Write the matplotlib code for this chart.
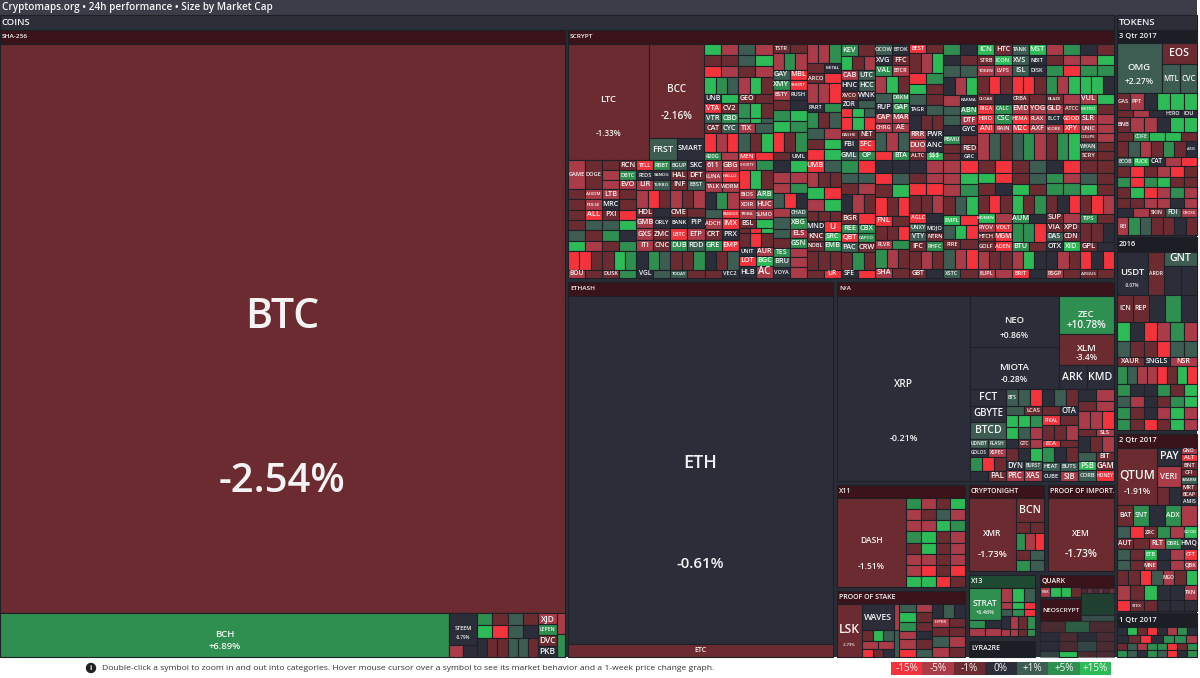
#import modules
import matplotlib
matplotlib.use('Agg')
import matplotlib.pyplot as plt
from matplotlib.patches import Rectangle, Circle
import numpy as np

plt.rcParams['font.family'] = ['Open Sans', 'DejaVu Sans']

#colour scale of the map, one colour per performance bin
scale_labels = ['-15%', '-5%', '-1%', '0%', '+1%', '+5%', '+15%']
scale_edges = [-10, -3.5, -0.9, 0.9, 3.5, 12]
scale_colors = ['#f5333c', '#a93c48', '#6b2b30', '#2b2e39', '#3d5c52', '#2f8f50', '#2dbb58']

#main coins: name, 24h change
big_names = ['BTC', 'BCH', 'ETH', 'XRP', 'LTC', 'BCC', 'NEO', 'MIOTA', 'ZEC', 'XLM', 'DASH', 'XMR', 'XEM', 'STRAT', 'LSK', 'OMG', 'USDT', 'QTUM', 'STEEM']
big_change = ['-2.54%', '+6.89%', '-0.61%', '-0.21%', '-1.33%', '-2.16%', '+0.86%', '-0.28%', '+10.78%', '-3.4%', '-1.51%', '-1.73%', '-1.73%', '+6.46%', '-2.73%', '+2.27%', '-0.07%', '-1.91%', '-0.79%']
big_name_px = [41, 9.5, 18, 10, 9.5, 10, 9.5, 9.5, 9.5, 9.5, 8.5, 8.5, 8.5, 8.5, 12, 9.5, 9.5, 12, 5.5]
big_change_px = [40, 9.5, 15, 9, 8, 10, 8.5, 8.5, 10, 8.5, 8.5, 9.5, 10.5, 5.5, 4, 8.5, 4.5, 8.5, 4.5]

#scrypt: LTC and BCC sit left of the top strips, the rest is cells of [height, perf or (perf, name), ...]
scrypt_top = [
    [[11, 15, -5], [11, -2, -2], [11, -15, -5], [17, 15, 5, 1], [9, (0, 'UNB'), 15], [10, (-15, 'VTA'), (-2, 'CV2')], [10, (1, 'VTR'), (5, 'CBD')], [10, (-2, 'CAT'), (1, 'CYC')], [19, -15, -5, -15], [8, (5, '420G'), -5]],
    [[11, 1, -5], [11, 1, 15], [11, -2, -5], [17, -5, 15, -2], [9, (-2, 'GEO'), -2], [15, 5, 15, -2], [5, 5, 15, 1], [10, (-5, 'TIX'), 1], [19, 1, -2, 15], [8, (-15, 'MEN'), -15]],
    [[9, (-2, 'TSTR'), -2], [17, -5, 5, -5], [10, (1, 'GAY'), (-15, 'MBL')], [10, (5, 'XMY'), (-15, 'SHORT')], [10, (-5, 'BSTY'), (0, 'RUSH')], [10, -2, 0], [11, 5, 15], [11, 15, 5], [20, -15, -2, 5], [8, -2, (0, 'UML')]],
    [[18, -5, -5, 5], [9, -2, (0, 'METAL')], [10, (-2, 'ARCO'), -15], [18, -5, -5, -15], [9, (0, 'PART'), 5], [15, 5, -2, 1], [10, 1, -5], [10, -2, 15], [10, -15, 15]],
    [[12, (5, 'KEV'), -2], [14, 15, -2, -5], [9, (-5, 'CAB'), (1, 'UTC')], [11, (0, 'HNC'), (1, 'HCC')], [9, (-2, 'XVCO'), (0, 'WNK')], [8, (0, 'ZOR'), 1], [9, -15, 15, 1], [13, -15, 15, -15], [8, (-2, 'DASHE'), (-2, 'NET')], [12, (0, 'FBI'), (-15, 'SFC')], [9, (1, 'GML'), (5, 'OP')]],
    [[11, (1, 'OCOW'), (0, 'BTOK')], [10, (0, 'XVG'), (-2, 'FFC')], [11, (5, 'VAL'), (-5, 'BTCR')], [17, -5, 15, -2], [9, 1, (5, 'DRKM')], [10, (0, 'RUP'), (5, 'GAP')], [10, (-5, 'CAP'), (-5, 'MAR')], [9, (-5, 'CHRG'), (-5, 'AE')], [19, 1, -5, 1], [9, -15, (5, 'BTA')]],
    [[9, (-15, 'BEST'), -2], [19, -2, -5, 15], [11, -15, 5], [10, 15, -2], [10, 1, -2], [10, (0, 'TAGR'), 1], [15, 0, -2, -2], [9, (-5, 'RRR'), (0, 'PWR')], [12, (-5, 'DUO'), (0, 'ANC')], [8, (-2, 'ALTC'), (15, '$$$')]],
    [[11, 5, 0], [10, 0, -2], [11, 1, 1], [18, 0, -5, 15], [11, -5, (0, 'KARMA')], [9, 1, (5, 'ABN')], [10, 1, (-5, 'DTF')], [9, 0, (0, 'GYC')], [9, (5, 'PBMU'), -2], [9, -2, (-2, 'RED')], [7, -2, (0, 'GRC')]],
    [[11, (15, 'ICN'), (-2, 'HTC')], [10, (-2, 'STRB'), (15, 'ICON')], [11, (-5, 'TOKEN'), (-5, 'LVPS')], [18, -2, -15, -2], [10, (-2, 'CLOAK'), 0], [10, (-15, 'RIGA'), (5, 'CALC')], [10, (-15, 'HIRO'), (5, 'CSC')], [9, (-15, 'ANI'), (-5, 'RAIN')], [27, -5, 1, -2]],
    [[11, (1, 'TANK'), (15, 'MST')], [10, (1, 'XVS'), (0, 'NBIT')], [11, (1, 'ISL'), (0, 'DISK')], [18, -15, -15, -2], [10, (-2, 'CRBA'), -2], [10, (-5, 'EMD'), (-5, 'YOG')], [10, (-15, 'HEMA'), (-5, 'FLAX')], [9, (-15, 'M2C'), (-5, 'AXF')], [27, 1, 5, -5]],
    [[11, -5, 5], [10, -2, -5], [11, 5, -15], [18, 5, -5, 15], [10, (-2, 'BLAZE'), -5], [10, (-5, 'GLD'), (-2, 'ATCC')], [10, (0, 'ELCT'), (-15, 'GOOD')], [9, (-5, 'SCORE'), (-15, 'XPY')], [27, -2, 5, 15]],
    [[11, 0, -2], [10, -5, 15], [11, 5, 5], [18, 15, 15, 0], [10, (-5, 'VUL'), 15], [10, (15, 'METRO'), -2], [10, (-5, 'SLR'), -5], [9, (-5, 'UNIC'), -5], [9, (-2, 'COUPE'), -5], [9, (1, 'WYAN'), -2], [9, (-2, 'SCRY'), -2]],
]
scrypt_bottom = [
    [[28, (-5, 'GAME'), (-2, 'DOGE')], [10, -2, (-5, 'AIXOM')], [10, -2, (-5, 'PULSE')], [10, -2, (-15, 'ALL')], [10, -2, 1], [10, 1, -2], [10, 15, -5], [18, -15, -15, -2], [8, (-5, 'BOU'), -2]],
    [[10, -2, (-2, 'RCN')], [9, -5, (5, 'DBTC')], [9, -5, (-5, 'EVO')], [10, (-5, 'LTB'), -2], [10, (0, 'MRC'), -2], [10, (-2, 'PXI'), -15], [10, 1, 15], [10, 5, 0], [10, -2, 5], [18, -2, 15, 5], [8, (-2, 'DUSK'), 5]],
    [[10, (-15, 'TELL'), (5, 'RBBT')], [9, (0, 'FEDS'), (0, 'SANDG')], [10, (-5, 'LIR'), (1, 'TURBO')], [17, -5, -15, -2], [9, (-2, 'HDL'), 0], [11, (-5, 'GMB'), (0, 'ORLY')], [11, (-5, 'GXS'), (-2, 'ZMC')], [11, (-5, 'ITI'), (-2, 'CNC')], [18, 0, 5, 1], [8, (0, 'VGL'), 1]],
    [[10, (1, 'BGUP'), (0, 'SKC')], [9, (-2, 'HAL'), (-2, 'DFT')], [10, (-2, 'INF'), (1, 'EBST')], [17, -5, -2, -5], [9, (-2, 'CME'), -2], [11, (0, 'BANK'), (0, 'PIP')], [11, (-15, 'LBTC'), (-5, 'ETP')], [11, (5, 'DUB'), (1, 'RDD')], [18, -2, -2, 5], [8, (1, 'TODAY'), -2]],
    [[11, (-5, '611'), (-5, 'GBG')], [10, (-5, 'LUNA'), (-15, 'HALLO')], [10, (-5, 'TALK'), (-5, 'WORM')], [17, 0, 5, -5], [9, 1, (-15, 'RANDOX')], [10, (-5, 'ADCH'), (-15, 'IMX')], [11, (-2, 'CRT'), (0, 'PRX')], [11, (5, 'GRE'), (-15, 'EMP')], [18, 0, -2, 1], [8, -2, (0, 'VEC2')]],
    [[10, (-5, 'SHORTY'), 5], [19, -15, 15, -2], [10, (-5, 'BIOS'), (5, 'ARB')], [10, (-5, 'XOIR'), (-5, 'HUC')], [10, (-5, 'TRIBA'), (-5, 'SUMO')], [9, (-2, 'BSL'), 15], [5, -2, -15, 15], [14, -2, -15, -2], [9, (0, 'UNIT'), (-5, 'AUR')], [10, (-15, 'LOT'), (15, 'BGC')], [12, (0, 'HLB'), (-5, 'AC')]],
    [[11, 0, 15], [10, -5, -5], [10, -5, 5], [14, 1, -15, 0], [8, -5, (1, 'CHAD')], [11, 1, (5, 'XBG')], [9, 1, (-5, 'ELS')], [9, -2, (5, 'GSN')], [8, (5, 'TES'), -5], [10, (1, 'BRU'), -5], [10, (0, 'VOYA'), -5]],
    [[11, (-15, 'UMB'), 1], [15, -5, -2, -2], [11, 15, -15], [11, -5, 15], [10, -2, -2, -2], [10, (0, 'MND'), (-15, 'U')], [9, (-2, 'KNC'), (15, 'SRC')], [9, (-2, 'NOBL'), (5, 'EMB')], [18, -2, -2, -2], [8, -2, (-15, 'UR')]],
    [[12, 5, -15], [10, 1, 1], [11, -2, -5], [18, 0, -5, -2], [10, (-2, 'BGR'), -15], [9, (5, 'REE'), (5, 'CBX')], [9, (-15, 'QBT'), (5, 'CAPCO')], [9, (1, 'PAC'), (-2, 'CRW')], [17, -2, 5, -2], [8, (0, 'SFE'), -15]],
    [[12, 0, 0], [10, -15, 1], [11, -2, 15], [17, -15, -2, -15], [9, (-15, 'FNL'), -2], [13, -2, -2, -15], [8, (-5, 'FLVR'), 5], [17, 5, -5, -2], [9, (-5, 'SHA'), -2]],
    [[12, 0, -5], [10, -2, -5], [11, -15, -15], [17, -2, -2, -5], [9, (-15, 'AGLC'), 0], [9, (1, 'UNXY'), (0, 'MOJO')], [8, (1, 'VTY'), (-2, 'NTRN')], [10, (-2, 'IFC'), (5, 'RHFC')], [17, -2, -5, -2], [8, (-2, 'GBT'), 0]],
    [[12, -5, -15], [10, -5, 15], [11, -5, 5], [17, -2, 1, 15], [9, (15, 'EMPL'), -15], [13, 1, 15, -15], [9, (-2, 'FIRE'), -2], [18, 1, -5, -15], [8, (1, 'XSTC'), -2]],
    [[12, -2, -15], [10, 15, -15], [11, -2, 0], [17, -2, -15, -2], [9, (15, 'WOMEN'), -5], [9, (-5, 'RYOV'), (-15, 'VOLT')], [8, (-2, 'HTCH'), (-15, 'MGM')], [10, (-2, 'GOLF'), (-15, 'ADEN')], [17, -5, -2, -2], [8, (-5, 'EUPL'), -5]],
    [[12, -2, 1], [10, -2, 1], [11, 15, -2], [17, 15, -2, 5], [9, (5, 'AUM'), 0], [17, 5, 5, -15], [9, (5, 'BTU'), -2], [17, -5, 15, 0], [8, (-15, 'BRIT'), 0]],
    [[12, 0, -15], [10, 5, -5], [11, 5, 5], [17, -2, 0, -15], [9, (-2, 'SUP'), -5], [9, (-2, 'VIA'), (-2, 'XPD')], [8, (1, 'DAS'), (-2, 'CDN')], [10, (0, 'OTX'), (15, 'XID')], [17, 0, -5, -2], [8, (-5, 'RSGP'), -2]],
    [[12, -2, -2], [10, 1, -2], [11, 15, -2], [17, -2, -15, -5], [9, (5, 'TIPS'), -2], [17, -2, -2, 0], [9, (-2, 'GPL'), 0], [17, -15, 0, -15], [8, (-2, 'ARGUS'), -2]],
]

#rest of the coins block
na_strips = [
    [[16, (0, 'FCT')], [16, (0, 'GBYTE')], [16, (1, 'BTCD')], [9, (1, 'UDNBT'), (1, 'FLASH')], [9, (0, 'GOLOS'), (-5, 'XSPEC')], [13, 5, -15, -2], [10, 0, (-2, 'PAL')]],
    [[16, (1, 'BTS'), 1, -15], [9, 1, (-2, 'LCAS')], [11, 15, 15, 5], [11, 15, 1, -5], [9, 0, (-2, 'GTC'), -5], [12, -2, 0, 15], [9, (0, 'DYN'), (1, 'BURST')], [10, (-5, 'PRC'), (-5, 'XAS')]],
    [[16, 0, 1, -2], [9, -2, (0, 'OTA')], [9, (-15, 'PIKAL'), -2], [14, -2, -2, -5], [7, (-15, 'ECA'), -2], [14, 5, 0, -2], [9, (1, 'HEAT'), (1, 'BUTS')], [9, (0, 'CUBE'), (-5, 'SIB')]],
    [[11, 0, -5], [10, -2, -5], [16, -5, -5, -15], [7, -2, (-5, 'SLS')], [15, 0, -2, -5], [8, 1, (-2, 'BIT')], [9, (15, 'PSB'), (-2, 'GAM')], [10, (1, 'CORB'), (-15, 'HONEY')]],
]
dash_grid = [[5, -5, -2, 15], [-5, -2, 1, -5], [-5, -5, 15, 5], [5, 15, -2, -5], [-2, 15, -2, -5], [-5, -5, -2, -5], [-5, -15, -2, -15], [15, 15, -15, -2]]
bcn_rows = [[23, (-2, 'BCN')], [10, -2, -2], [16, 5, -5, -15], [10, -2, 1], [10, 5, 1]]
strat_rows = [[16, -5, 15, 1], [8, -5, 15, -15], [7, 1, 5, -15], [15, 0, -5, -2, 5], [8, -5, -5, -2, 5]]
pos_cols = [
    [[8, 1, -5], [9, 15, -2], [8, 5, -2], [8, -5, 0], [9, -5, -2], [8, -15, 1]],
    [[12, 0, 1, 0], [8, (-5, 'HIPER'), -2], [8, -2, -2], [9, 1, -5], [9, -5, -2]],
]
waves_rows = [[12, -2, 15, 1], [9, -5, -5], [9, -15, -2, 0]]
steem_right = [[12, 5, -2, 1, -2], [13, 15, -15, 1, 0], [19, 0, -2, -2, 1, 1, -2]]
steem_labels = [[1, (-5, 'XJD')], [1, (5, 'LEPEN')], [1, (-2, 'DVC')], [1, (0, 'PKB')]]
quark_rows = [[10, (-5, 'PINX'), 15, 15, -2]]
quark_side = [[5, -2, -5, -2, -5, -2, -5]]
neo_rows = [[11, -2, 5, -2], [8, 0, -2, 0, -2], [10, 0, -2, 1, -2], [6, 1, 15, -2, -2]]

#tokens block
q3_top = [[20, (1, 'MTL'), (1, 'CVC')]]
q3_rows = [
    [16, (-2, 'GAS'), (-5, 'PPT'), 0, 15, 15, 15], [7, -2, -5, 0, (0, 'HERO'), (0, 'IOU')],
    [15, (-2, 'BNB'), -5, -5, 0, 15, 15], [9, -2, (5, 'COFE'), 15, 15, -2],
    [15, -2, 1, -5, -2, 5, -2, (0, 'ARIS')], [9, (1, 'ECOB'), (15, 'FUCK'), (0, 'CAT'), -5, -15],
    [11, -2, -15, -2, -5, -15, -2], [9, 5, -15, 5, 15, -2, -2], [11, -2, 15, -15, -5, 5, -5],
    [10, -2, -2, -5, -5, 0, -5], [9, 0, -5, (-2, 'SKIN'), (1, 'FDI'), (-5, 'CROSS')], [17, (-5, 'REI'), 5, 1, -2, -2, 0, -2],
]
t2016_rows = [
    [24, (-2, 'ICN'), (-2, 'REP'), 0, 5, 0], [17, 15, 0, -15, -5, 5, -5], [14, 1, -2, -2, -15, 1, 1],
    [8, (-2, 'XAUR'), (0, 'SNGLS'), (-5, 'NSR')], [16, 5, 1, -5, -5, -15, -2, 15, -15],
    [11, 5, 0, 0, 5, -2, 15], [10, 1, -5, 0, -2, 5, 15], [10, 5, -2, 0, -5, 15, -5], [10, 5, -2, -15, -2, 15, -5],
]
q2_side = [[7, (-5, 'GNO')], [8, (-15, 'ALT')], [8, (-2, 'BNT')], [8, (-2, 'CFI')], [8, (1, 'SWARM')], [8, (-2, 'MRT')], [7, (-2, 'BCAP')], [8, (0, 'AMIS')]]
q2_rows = [
    [23, (-2, 'BAT'), (5, 'SNT'), 0, (5, 'ADX'), -5], [13, 1, -15, (-2, 'ZRC'), 5, -5, (15, 'GOOD')],
    [12, (-2, 'AUT'), -2, (-5, 'RLT'), (5, 'DBRL'), (0, 'HMQ')], [12, 1, -2, (15, 'ETB'), 0, -5, (-15, 'CFT')],
    [11, 1, -2, (-5, 'MNE'), 0, -5, (-5, 'QBK')], [16, -2, -2, -15, 1, (-5, 'MGO'), -2, 15],
    [16, -5, -2, 15, 0, 0, (-5, 'TKN')], [12, -15, (-2, 'STEX'), -2, 0, 0, 0],
]
q1_rows = [[10, 0, 15, -2, -15, 0, -5, 5, 0], [10, 0, -2, -15, 0, 5, 5, -5], [9, -2, 1, -5, 5, 5, -15, -2, 5], [9, 5, 1, 0, 5, 1, -15, 0, 5]]

#header bars
title_text = 'Cryptomaps.org \u2022 24h performance \u2022 Size by Market Cap'
footer_text = 'Double-click a symbol to zoom in and out into categories. Hover mouse cursor over a symbol to see its market behavior and a 1-week price change graph.'
bar_color = '#2c2f38'
maroon = '#3a141a'
dark_green = '#1d4a30'
near_black = '#1c1e25'
line_color = '#1e2028'


def perfColor(perf):
  return scale_colors[int(np.digitize(perf, scale_edges))]


def splitV(rect, weights):
  #cut a rect in rows, sizes are shares of its height
  x, y, w, h = rect
  weights = np.array(weights, dtype=float)
  stops = y + np.concatenate([[0], np.cumsum(weights)]) / weights.sum() * h
  return [(x, stops[i], w, stops[i+1]-stops[i]) for i in range(len(weights))]


def splitH(rect, weights):
  #cut a rect in columns, sizes are shares of its width
  x, y, w, h = rect
  weights = np.array(weights, dtype=float)
  stops = x + np.concatenate([[0], np.cumsum(weights)]) / weights.sum() * w
  return [(stops[i], y, stops[i+1]-stops[i], h) for i in range(len(weights))]


def box(ax, rect, color, alpha=1.0, edge=line_color):
  x, y, w, h = rect
  ax.add_patch(Rectangle((x, y), w, h, facecolor=color, edgecolor=edge, linewidth=0.8, alpha=alpha))


def word(ax, x, y, text, px, color='#f4f4f4', ha='center', weight='semibold'):
  #px is a font size in image pixels
  ax.text(x, y, text, fontsize=px*0.72, color=color, ha=ha, va='center', fontweight=weight)


def cell(ax, rect, item, dim=False):
  perf, name = item if isinstance(item, tuple) else (item, None)
  alpha = 0.5 if dim and abs(perf) < 15 else 1.0
  box(ax, rect, perfColor(perf), alpha)
  if name:
    x, y, w, h = rect
    px = min(h*0.8, (w-1)/(0.72*len(name)), 10.5)
    word(ax, x+w/2, y+h/2, name, px)


def rows(ax, rect, table, dim=False):
  for r, row in zip(splitV(rect, [t[0] for t in table]), table):
    for c, item in zip(splitH(r, [1]*(len(row)-1)), row[1:]):
      cell(ax, c, item, dim)


def strips(ax, rect, tables):
  for r, table in zip(splitH(rect, [1]*len(tables)), tables):
    rows(ax, r, table)


def grid(ax, rect, table):
  for r, row in zip(splitV(rect, [1]*len(table)), table):
    for c, perf in zip(splitH(r, [1]*len(row)), row):
      cell(ax, c, perf)


def bigCell(ax, rect, name):
  #big coin with its name and change
  i = big_names.index(name)
  perf = float(big_change[i].strip('%'))
  box(ax, rect, perfColor(perf))
  x, y, w, h = rect
  word(ax, x+w/2, y+h*0.48, name, big_name_px[i])
  word(ax, x+w/2, y+h*0.77, big_change[i], big_change_px[i])


def header(ax, rect, text, color=maroon, px=8):
  box(ax, rect, color)
  word(ax, rect[0]+2, rect[1]+rect[3]/2, text, px, ha='left')


def drawCoins(ax, rect):
  head, body = splitV(rect, [15, 627])
  header(ax, head, 'COINS', bar_color, 9.5)
  sha, _, right = splitH(body, [565, 3, 546])
  drawSha(ax, sha)
  scrypt, _, lower = splitV(right, [248, 4, 375])
  drawScrypt(ax, scrypt)
  eth, _, others = splitH(lower, [265, 4, 277])
  drawEth(ax, eth)
  na, _, small = splitV(others, [199, 4, 172])
  drawNa(ax, na)
  drawSmall(ax, small)


def drawSha(ax, rect):
  head, btc, low = splitV(rect, [14, 569, 44])
  header(ax, head, 'SHA-256', px=6.5)
  bigCell(ax, btc, 'BTC')
  bch, steem, mid, labels, last = splitH(low, [449, 28, 61, 19, 8])
  bigCell(ax, bch, 'BCH')
  up, down = splitV(steem, [32, 12])
  bigCell(ax, up, 'STEEM')
  rows(ax, down, [[1, -5, 0]])
  rows(ax, mid, steem_right)
  rows(ax, labels, steem_labels)
  rows(ax, last, [[21, -5], [23, 5]])


def drawScrypt(ax, rect):
  head, body = splitV(rect, [14, 234])
  header(ax, head, 'SCRYPT', px=6.5)
  top, bottom = splitV(body, [116, 118])
  left, right = splitH(top, [136, 409])
  ltc, bcc = splitH(left, [81, 55])
  bigCell(ax, ltc, 'LTC')
  up, down = splitV(bcc, [94, 22])
  bigCell(ax, up, 'BCC')
  rows(ax, down, [[1, (1, 'FRST'), (0, 'SMART')]])
  strips(ax, right, scrypt_top)
  strips(ax, bottom, scrypt_bottom)


def drawEth(ax, rect):
  head, eth, etc = splitV(rect, [14, 348, 13])
  header(ax, head, 'ETHASH', px=6.5)
  bigCell(ax, eth, 'ETH')
  box(ax, etc, perfColor(-2))
  word(ax, etc[0]+etc[2]/2, etc[1]+etc[3]/2, 'ETC', 7)


def drawNa(ax, rect):
  head, body = splitV(rect, [14, 185])
  header(ax, head, 'N/A', px=6.5)
  xrp, rest = splitH(body, [133, 144])
  bigCell(ax, xrp, 'XRP')
  up, low = splitV(rest, [93, 92])
  mid, side = splitH(up, [89, 55])
  neo, miota = splitV(mid, [51, 42])
  bigCell(ax, neo, 'NEO')
  bigCell(ax, miota, 'MIOTA')
  zec, xlm, ark = splitV(side, [38, 31, 24])
  bigCell(ax, zec, 'ZEC')
  bigCell(ax, xlm, 'XLM')
  rows(ax, ark, [[1, (0, 'ARK'), (0, 'KMD')]])
  strips(ax, low, na_strips)


def drawSmall(ax, rect):
  lcol, _, rcol = splitH(rect, [128, 4, 145])
  top, _, pos = splitV(lcol, [102, 4, 66])
  head, body = splitV(top, [13, 89])
  header(ax, head, 'X11', px=7)
  dash, dgrid = splitH(body, [69, 59])
  bigCell(ax, dash, 'DASH')
  grid(ax, dgrid, dash_grid)
  head, body = splitV(pos, [13, 53])
  header(ax, head, 'PROOF OF STAKE', px=7)
  lsk, waves, sliver, c1, c2 = splitH(body, [25, 32, 5, 33, 33])
  bigCell(ax, lsk, 'LSK')
  wup, wdown = splitV(waves, [26, 27])
  rows(ax, wup, [[1, (0, 'WAVES')]])
  rows(ax, wdown, waves_rows)
  rows(ax, sliver, [[26, -5], [27, 1]])
  rows(ax, c1, pos_cols[0])
  rows(ax, c2, pos_cols[1])

  upper, _, lower = splitV(rcol, [86, 4, 82])
  crypt, _, imp = splitH(upper, [75, 4, 66])
  head, body = splitV(crypt, [13, 73])
  header(ax, head, 'CRYPTONIGHT', px=7)
  xmr, bcn = splitH(body, [47, 28])
  bigCell(ax, xmr, 'XMR')
  rows(ax, bcn, bcn_rows)
  head, body = splitV(imp, [13, 73])
  header(ax, head, 'PROOF OF IMPORT.', px=7)
  bigCell(ax, body, 'XEM')

  left, _, neo = splitH(lower, [66, 5, 74])
  x13, _, lyra = splitV(left, [61, 5, 16])
  head, body = splitV(x13, [13, 48])
  header(ax, head, 'X13', dark_green, 7)
  a, b = splitH(body, [32, 34])
  s1, s2 = splitV(a, [32, 16])
  bigCell(ax, s1, 'STRAT')
  rows(ax, s2, [[8, 5, 0], [8, -5, -5]])
  rows(ax, b, strat_rows)
  header(ax, lyra, 'LYRA2RE', near_black, 7)

  q, n = splitH(neo, [41, 33])
  upq, lowq = splitV(q, [46, 36])
  qa, qb, qc, qd = splitV(upq, [12, 10, 2, 22])
  header(ax, qa, 'QUARK', maroon, 7)
  rows(ax, qb, quark_rows)
  box(ax, qc, perfColor(0))
  header(ax, qd, 'NEOSCRYPT', maroon, 6.5)
  upn, lown = splitV(n, [46, 36])
  na1, na2, na3, na4 = splitV(upn, [13, 5, 22, 6])
  box(ax, na1, maroon)
  rows(ax, na2, quark_side, dim=True)
  box(ax, na3, dark_green, alpha=0.7)
  box(ax, na4, perfColor(1), alpha=0.7)
  rows(ax, (neo[0], lowq[1], neo[2], lowq[3]), neo_rows, dim=True)


def drawTokens(ax, rect):
  head, q3, _, t2016, _, q2, _, q1 = splitV(rect, [14, 197, 2, 185, 4, 170, 2, 42])
  header(ax, head, 'TOKENS', bar_color, 9.5)
  hq, body = splitV(q3, [13, 184])
  header(ax, hq, '3 Qtr 2017', near_black, 7.5)
  up, low = splitV(body, [48, 136])
  omg, rest = splitH(up, [45, 35])
  bigCell(ax, omg, 'OMG')
  eos, pair = splitV(rest, [20, 28])
  rows(ax, eos, [[1, (-2, 'EOS')]])
  rows(ax, pair, q3_top)
  rows(ax, low, q3_rows)

  hq, body = splitV(t2016, [14, 171])
  header(ax, hq, '2016', near_black, 7.5)
  up, low = splitV(body, [42, 129])
  usdt, ardr, gnt = splitH(up, [31, 16, 33])
  bigCell(ax, usdt, 'USDT')
  rows(ax, ardr, [[1, (-2, 'ARDR')]])
  rows(ax, gnt, [[14, (1, 'GNT')], [28, 0, 0]])
  rows(ax, low, t2016_rows)

  hq, body = splitV(q2, [13, 157])
  header(ax, hq, '2 Qtr 2017', maroon, 7.5)
  up, low = splitV(body, [55, 102])
  qtum, pay, side = splitH(up, [40, 24, 16])
  bigCell(ax, qtum, 'QTUM')
  rows(ax, pay, [[18, (0, 'PAY')], [20, (-5, 'VERI')], [17, -2, 0]])
  rows(ax, side, q2_side)
  rows(ax, low, q2_rows)

  hq, body = splitV(q1, [13, 29])
  header(ax, hq, '1 Qtr 2017', near_black, 7.5)
  rows(ax, body, q1_rows)


def drawFooter(ax, rect):
  band = splitV(rect, [5, 13, 3])[1]
  _, scale, _ = splitH(band, [891, 220, 89])
  for r, label in zip(splitH(scale, [1]*len(scale_labels)), scale_labels):
    x, y, w, h = r
    ax.add_patch(Rectangle((x, y), w, h, facecolor=perfColor(float(label.strip('%'))), edgecolor='none'))
    word(ax, x+w/2, y+h/2, label, 10, weight='normal')
  ax.add_patch(Circle((91, rect[1]+11), 4.5, color='#222222'))
  word(ax, 91, rect[1]+11, 'i', 7, color='white', weight='bold')
  word(ax, 102, rect[1]+11, footer_text, 8.5, color='#333333', ha='left', weight='normal')


def main():
  fig = plt.figure(figsize=(12, 6.78), dpi=100)
  ax = fig.add_axes([0, 0, 1, 1])
  ax.set_xlim(0, 1200)
  ax.set_ylim(678, 0)
  ax.axis('off')

  page, footer = splitV((0, 0, 1200, 678), [657, 21])
  map_area, _ = splitH(page, [1197, 3])
  ax.add_patch(Rectangle(map_area[:2], map_area[2], map_area[3], facecolor='#2a2d36', edgecolor='none'))
  title, main_area = splitV(map_area, [15, 642])
  ax.add_patch(Rectangle(title[:2], title[2], title[3], facecolor='#3b3e48', edgecolor='none'))
  word(ax, 2, 7.5, title_text, 10, ha='left')

  coins, _, tokens = splitH(main_area, [1114, 3, 80])
  drawCoins(ax, coins)
  drawTokens(ax, tokens)
  drawFooter(ax, footer)

  fig.savefig('out.png', dpi=100)


main()
